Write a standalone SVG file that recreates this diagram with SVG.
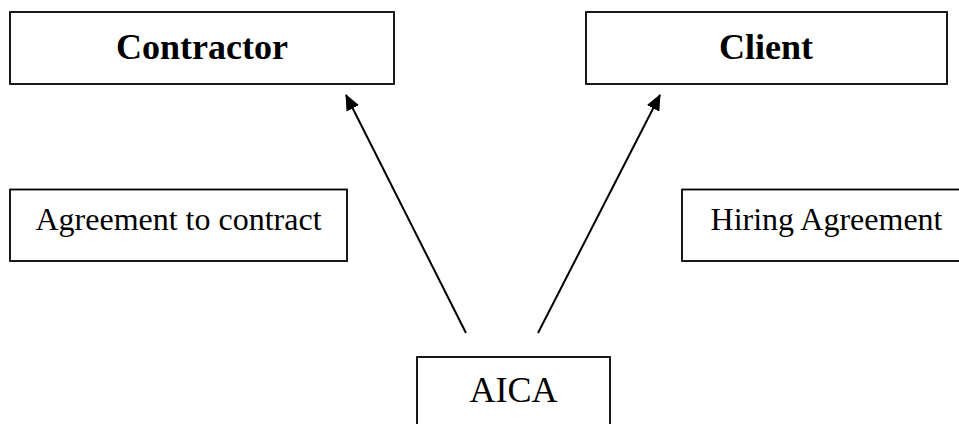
<svg xmlns="http://www.w3.org/2000/svg" width="959" height="424" viewBox="0 0 959 424">
<style>
.box{fill:#fff;stroke:#000;stroke-width:1.8}
.t{font-family:"Liberation Serif","Times New Roman",serif;fill:#000;text-anchor:middle}
.b{font-weight:bold;font-size:36px}
.r{font-size:32px}
.a{font-size:36px}
.c{stroke:#000;stroke-width:2;fill:none;marker-end:url(#ah)}
</style>
<defs>
<marker id="ah" markerWidth="16" markerHeight="14" refX="15" refY="7" orient="auto" markerUnits="userSpaceOnUse">
<path d="M0,0 L16,7 L0,14 Z" fill="#000"/>
</marker>
</defs>
<rect width="959" height="424" fill="#fff"/>
<g id="contractor"><rect class="box" x="10" y="12" width="384" height="72"/><text class="t b" x="202" y="59">Contractor</text></g>
<g id="client"><rect class="box" x="586" y="12" width="361" height="72"/><text class="t b" x="766" y="59">Client</text></g>
<g id="agreement"><rect class="box" x="10" y="189.5" width="337" height="71.5"/><text class="t r" x="178.5" y="230">Agreement to contract</text></g>
<g id="hiring"><rect class="box" x="682" y="189.5" width="290" height="71.5"/><text class="t r" x="826.5" y="230">Hiring Agreement</text></g>
<g id="aica"><rect class="box" x="417" y="357" width="193" height="80"/><text class="t a" x="513.5" y="402">AICA</text></g>
<g id="connectors">
<line class="c" x1="466" y1="333" x2="346" y2="95"/>
<line class="c" x1="538" y1="333" x2="660" y2="95"/>
</g>
</svg>
